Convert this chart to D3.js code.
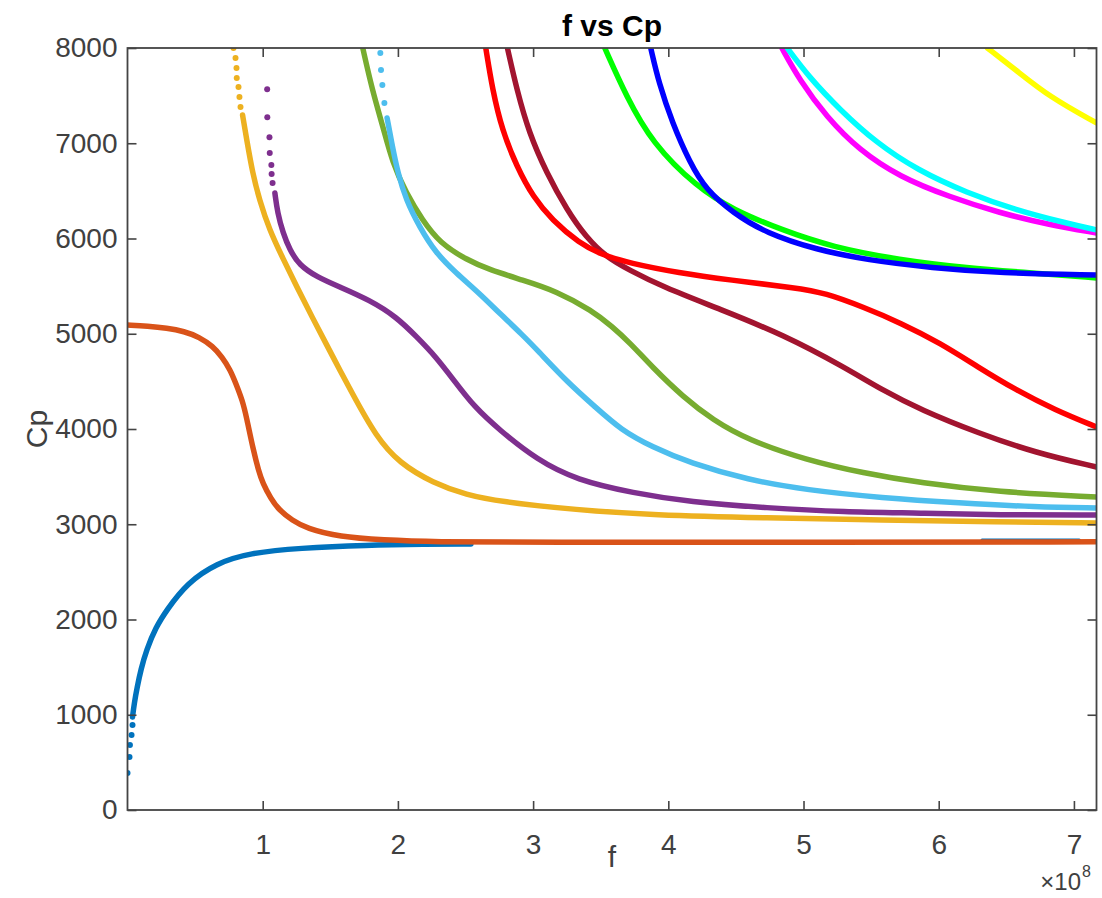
<!DOCTYPE html>
<html>
<head>
<meta charset="utf-8">
<script src="https://cdn.jsdelivr.net/npm/d3@7.9.0/dist/d3.min.js"></script>
<style>
  body { margin: 0; background: #fff; }
  svg { display: block; font-family: "Liberation Sans", Arial, sans-serif; }
</style>
</head>
<body>
<svg width="1102" height="898"></svg>
<script>
const xTicks = [1, 2, 3, 4, 5, 6, 7];
const yTicks = [0, 1000, 2000, 3000, 4000, 5000, 6000, 7000, 8000];

const blueDots = [[0.0, 388], [0.015, 556], [0.018, 682], [0.03, 787], [0.037, 892]];
const blue = [[0.037, 976], [0.05, 1120], [0.07, 1280], [0.10, 1480], [0.14, 1680], [0.21, 1920],
  [0.29, 2100], [0.44, 2383], [0.66, 2593], [0.90, 2698], [1.27, 2750], [1.77, 2782], [2.2, 2790], [2.54, 2792]];
const blueTail = [[6.32, 2835], [7.04, 2835]];

const orange = [[0.0, 5092], [0.15, 5080], [0.29, 5060], [0.42, 5025], [0.53, 4966], [0.63, 4870],
  [0.70, 4756], [0.76, 4620], [0.80, 4483], [0.85, 4300], [0.88, 4126], [0.93, 3780], [0.97, 3560],
  [1.0, 3433], [1.06, 3270], [1.12, 3150], [1.22, 3040], [1.32, 2960], [1.57, 2866], [1.89, 2835],
  [2.26, 2815], [3.0, 2810], [5.0, 2810], [7.167, 2815]];

const yellowDots = [[0.784, 8000], [0.799, 7896], [0.806, 7791], [0.808, 7686], [0.821, 7591],
  [0.828, 7486], [0.836, 7381]];
const yellow = [[0.851, 7297], [0.882, 7035], [0.925, 6688], [0.976, 6405], [1.05, 6090], [1.15, 5790],
  [1.25, 5500], [1.36, 5190], [1.52, 4756], [1.66, 4378], [1.84, 3916], [2.01, 3643], [2.26, 3433],
  [2.51, 3307], [2.75, 3240], [3.32, 3150], [3.88, 3097], [4.73, 3066], [5.58, 3045], [6.43, 3024], [7.167, 3013]];

const purpleDots = [[1.033, 7567], [1.034, 7273], [1.05, 7063], [1.052, 6898], [1.064, 6772],
  [1.066, 6678], [1.073, 6583]];
const purple = [[1.09, 6478], [1.11, 6268], [1.15, 6058], [1.20, 5880], [1.27, 5722], [1.40, 5596],
  [1.57, 5491], [1.79, 5354], [1.99, 5176], [2.14, 4966], [2.28, 4760], [2.42, 4500], [2.56, 4240],
  [2.75, 3990], [3.03, 3675], [3.32, 3465], [3.74, 3328], [4.16, 3234], [4.73, 3171], [5.30, 3129],
  [5.87, 3118], [6.43, 3097], [7.167, 3097]];

const green = [[1.74, 8000], [1.81, 7560], [1.89, 7171], [1.96, 6794], [2.06, 6479], [2.18, 6195],
  [2.31, 5953], [2.51, 5775], [2.68, 5670], [2.92, 5565], [3.17, 5450], [3.44, 5240], [3.58, 5080],
  [3.72, 4900], [3.88, 4651], [4.11, 4336], [4.33, 4095], [4.59, 3885], [5.02, 3675], [5.44, 3538],
  [5.87, 3433], [6.43, 3339], [7.167, 3286]];

const lightBlueDots = [[1.87, 7948], [1.875, 7770], [1.885, 7612], [1.90, 7423]];
const lightBlue = [[1.92, 7266], [1.96, 6961], [2.0, 6688], [2.06, 6405], [2.16, 6121], [2.28, 5848],
  [2.43, 5638], [2.60, 5428], [2.75, 5218], [2.92, 4990], [3.03, 4830], [3.26, 4483], [3.46, 4231],
  [3.65, 3990], [3.88, 3811], [4.16, 3643], [4.59, 3465], [5.02, 3360], [5.58, 3276], [6.15, 3223],
  [6.72, 3181], [7.167, 3171]];

const darkRed = [[2.81, 8000], [2.88, 7560], [2.97, 7108], [3.10, 6688], [3.25, 6300], [3.39, 6016],
  [3.54, 5806], [3.71, 5670], [3.96, 5491], [4.38, 5260], [4.85, 4990], [5.30, 4651], [5.58, 4410],
  [5.87, 4200], [6.29, 3958], [6.72, 3748], [7.167, 3601]];

const red = [[2.65, 8000], [2.70, 7560], [2.77, 7140], [2.88, 6752], [3.0, 6436], [3.14, 6195],
  [3.34, 5953], [3.51, 5827], [3.71, 5743], [4.08, 5638], [4.45, 5565], [4.95, 5481], [5.16, 5428],
  [5.44, 5281], [5.72, 5113], [6.01, 4903], [6.29, 4651], [6.57, 4410], [6.86, 4200], [7.167, 4021]];

const brightGreen = [[3.53, 8000], [3.69, 7490], [3.88, 7003], [4.21, 6541], [4.48, 6300],
  [4.84, 6090], [5.21, 5911], [5.71, 5775], [6.21, 5691], [6.69, 5638], [7.167, 5586]];

const brightBlue = [[3.87, 8000], [3.93, 7633], [4.03, 7213], [4.16, 6794], [4.28, 6510], [4.48, 6269],
  [4.72, 6058], [5.10, 5880], [5.47, 5775], [5.95, 5691], [6.45, 5638], [7.167, 5617]];

const magenta = [[4.84, 8000], [4.97, 7665], [5.17, 7276], [5.41, 6930], [5.71, 6647], [6.08, 6436],
  [6.45, 6269], [6.82, 6142], [7.167, 6058]];

const cyan = [[4.88, 8000], [5.04, 7696], [5.27, 7350], [5.54, 7003], [5.84, 6720], [6.21, 6478],
  [6.57, 6300], [6.94, 6163], [7.167, 6090]];

const brightYellow = [[6.36, 8000], [6.57, 7770], [6.82, 7486], [7.167, 7213]];

// draw order follows the plot order
const series = [
  { pts: blue, dots: blueDots, color: "#0072BD", w: 5.5 },
  { pts: blueTail, dots: [], color: "#0072BD", w: 3 },
  { pts: orange, dots: [], color: "#D95319", w: 5.5 },
  { pts: yellow, dots: yellowDots, color: "#EDB120", w: 5.5 },
  { pts: purple, dots: purpleDots, color: "#7E2F8E", w: 5.5 },
  { pts: green, dots: [], color: "#77AC30", w: 5.5 },
  { pts: lightBlue, dots: lightBlueDots, color: "#4DBEEE", w: 5.5 },
  { pts: darkRed, dots: [], color: "#A2142F", w: 5.5 },
  { pts: red, dots: [], color: "#FF0000", w: 5.5 },
  { pts: brightGreen, dots: [], color: "#00FF00", w: 5.5 },
  { pts: brightBlue, dots: [], color: "#0000FF", w: 5.5 },
  { pts: magenta, dots: [], color: "#FF00FF", w: 5.5 },
  { pts: cyan, dots: [], color: "#00FFFF", w: 5.5 },
  { pts: brightYellow, dots: [], color: "#FFFF00", w: 5.5 }
];

const mLeft = 127.5, mRight = 1096.5, mTop = 48, mBottom = 810;
const axisColor = "#444", textColor = "#404040";

const svg = d3.select("svg");
const x = d3.scaleLinear().domain([0, 7.167]).range([mLeft, mRight]);
const y = d3.scaleLinear().domain([0, 8000]).range([mBottom, mTop]);

svg.append("defs").append("clipPath").attr("id", "plot")
  .append("rect").attr("x", mLeft).attr("y", mTop)
  .attr("width", mRight - mLeft).attr("height", mBottom - mTop);

const plot = svg.append("g").attr("clip-path", "url(#plot)");

const line = d3.line()
  .x(d => x(d[0]))
  .y(d => y(d[1]))
  .curve(d3.curveBasis);

series.forEach(s => {
  plot.append("path")
    .attr("d", line(s.pts))
    .attr("fill", "none")
    .attr("stroke", s.color)
    .attr("stroke-width", s.w)
    .attr("stroke-linecap", "round")
    .attr("stroke-linejoin", "round");
  plot.selectAll(null)
    .data(s.dots)
    .join("circle")
    .attr("cx", d => x(d[0]))
    .attr("cy", d => y(d[1]))
    .attr("r", 3)
    .attr("fill", s.color);
});

// axes: ticks inside, on all four sides
const tickLen = 9;
const bottomAxis = d3.axisBottom(x).tickValues(xTicks).tickSize(-tickLen).tickPadding(24).tickFormat(d3.format("d"));
const topAxis = d3.axisTop(x).tickValues(xTicks).tickSize(-tickLen).tickFormat("");
const leftAxis = d3.axisLeft(y).tickValues(yTicks).tickSize(-tickLen).tickPadding(10).tickFormat(d3.format("d"));
const rightAxis = d3.axisRight(y).tickValues(yTicks).tickSize(-tickLen).tickFormat("");

function styleAxis(g) {
  g.select(".domain").remove();
  g.selectAll(".tick line").attr("stroke", axisColor).attr("stroke-width", 1.6);
  g.selectAll(".tick text").attr("fill", textColor).style("font-size", "28px");
}

svg.append("g").attr("transform", `translate(0,${mBottom})`).call(bottomAxis).call(styleAxis);
svg.append("g").attr("transform", `translate(0,${mTop})`).call(topAxis).call(styleAxis);
svg.append("g").attr("transform", `translate(${mLeft},0)`).call(leftAxis).call(styleAxis);
svg.append("g").attr("transform", `translate(${mRight},0)`).call(rightAxis).call(styleAxis);

svg.append("rect")
  .attr("x", mLeft).attr("y", mTop)
  .attr("width", mRight - mLeft).attr("height", mBottom - mTop)
  .attr("fill", "none").attr("stroke", axisColor).attr("stroke-width", 1.8);

// labels
svg.append("text")
  .attr("x", (mLeft + mRight) / 2).attr("y", 36)
  .attr("text-anchor", "middle")
  .style("font-size", "30px").style("font-weight", "bold")
  .attr("fill", "#000")
  .text("f vs Cp");

svg.append("text")
  .attr("x", (mLeft + mRight) / 2).attr("y", 867)
  .attr("text-anchor", "middle")
  .style("font-size", "30px")
  .attr("fill", textColor)
  .text("f");

svg.append("text")
  .attr("transform", `translate(47,${(mTop + mBottom) / 2}) rotate(-90)`)
  .attr("text-anchor", "middle")
  .style("font-size", "30px")
  .attr("fill", textColor)
  .text("Cp");

svg.append("text")
  .attr("x", 1081).attr("y", 890)
  .attr("text-anchor", "end")
  .style("font-size", "24px")
  .attr("fill", textColor)
  .text("\u00d710");
svg.append("text")
  .attr("x", 1082).attr("y", 877)
  .style("font-size", "16px")
  .attr("fill", textColor)
  .text("8");
</script>
</body>
</html>
